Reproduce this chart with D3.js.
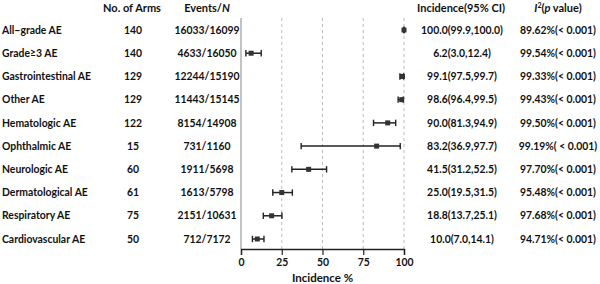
<!DOCTYPE html>
<html>
<head>
<meta charset="utf-8">
<script src="https://cdn.jsdelivr.net/npm/d3@7"></script>
<style>
  body { margin: 0; background: #fff; }
  svg text { font-family: Lato, sans-serif; font-weight: 700; fill: #111; }
</style>
</head>
<body>
<div id="chart"></div>
<script>
// forest plot of AE incidence
const outcomes = ['All−grade AE', 'Grade≥3 AE', 'Gastrointestinal AE', 'Other AE', 'Hematologic AE',
  'Ophthalmic AE', 'Neurologic AE', 'Dermatological AE', 'Respiratory AE', 'Cardiovascular AE'];
const arms = [140, 140, 129, 129, 122, 15, 60, 61, 75, 50];
const events = ['16033/16099', '4633/16050', '12244/15190', '11443/15145', '8154/14908',
  '731/1160', '1911/5698', '1613/5798', '2151/10631', '712/7172'];
const est = [100.0, 6.2, 99.1, 98.6, 90.0, 83.2, 41.5, 25.0, 18.8, 10.0];
const lo = [99.9, 3.0, 97.5, 96.4, 81.3, 36.9, 31.2, 19.5, 13.7, 7.0];
const hi = [100.0, 12.4, 99.7, 99.5, 94.9, 97.7, 52.5, 31.5, 25.1, 14.1];
const i2 = ['89.62%(< 0.001)', '99.54%(< 0.001)', '99.33%(< 0.001)', '99.43%(< 0.001)', '99.50%(< 0.001)',
  '99.19%( < 0.001)', '97.70%(< 0.001)', '95.48%(< 0.001)', '97.68%(< 0.001)', '94.71%(< 0.001)'];
const xTicks = [0, 25, 50, 75, 100];

const width = 600, height = 284;
const svg = d3.select('#chart').append('svg').attr('width', width).attr('height', height);

const x = d3.scaleLinear().domain([0, 100]).range([241, 404]);
const y = d3.scalePoint().domain(outcomes).range([30, 239]);
const fs = 10.4;

// gridlines
svg.selectAll('line.grid')
  .data(xTicks.filter(d => d > 0))
  .join('line')
  .attr('x1', d => x(d)).attr('x2', d => x(d))
  .attr('y1', 18).attr('y2', 249)
  .attr('stroke', '#aaa').attr('stroke-width', 0.8)
  .attr('stroke-dasharray', '3,3');

// left axis line
svg.append('line')
  .attr('x1', x(0)).attr('x2', x(0)).attr('y1', 18).attr('y2', 249)
  .attr('stroke', '#888').attr('stroke-width', 1);

// x axis
const xAxis = svg.append('g')
  .attr('transform', 'translate(0,249)')
  .call(d3.axisBottom(x).tickValues(xTicks).tickSize(6).tickPadding(4));
xAxis.select('.domain').attr('stroke', '#222').attr('stroke-width', 1.4);
xAxis.selectAll('.tick line').attr('stroke', '#222').attr('stroke-width', 1.2);
xAxis.selectAll('.tick text').attr('font-size', fs).attr('font-family', 'Lato, sans-serif');

svg.append('text')
  .attr('x', x(50)).attr('y', 278).attr('dy', '0.35em')
  .attr('text-anchor', 'middle').attr('font-size', 11.5)
  .text('Incidence %');

// CI bars
const rows = svg.append('g').selectAll('g')
  .data(outcomes.map((o, i) => ({ o, i })))
  .join('g')
  .attr('transform', d => `translate(0,${y(d.o)})`);

rows.append('line')
  .attr('x1', d => x(lo[d.i])).attr('x2', d => x(hi[d.i]))
  .attr('stroke', '#222').attr('stroke-width', 1.5);
rows.selectAll('line.cap')
  .data(d => [lo[d.i], hi[d.i]])
  .join('line')
  .attr('x1', v => x(v)).attr('x2', v => x(v))
  .attr('y1', -3.2).attr('y2', 3.2)
  .attr('stroke', '#222').attr('stroke-width', 1.4);
rows.append('rect')
  .attr('x', d => x(est[d.i]) - 2.5).attr('y', -2.5)
  .attr('width', 5).attr('height', 5)
  .attr('fill', '#333');

// header
const header = [
  { t: 'No. of Arms', x: 132 },
  { t: 'Events/', it: 'N', x: 207 },
  { t: 'Incidence(95% CI)', x: 461 },
];
header.forEach(h => {
  const t = svg.append('text').attr('x', h.x).attr('y', 8).attr('dy', '0.35em')
    .attr('text-anchor', 'middle').attr('font-size', 11).text(h.t);
  if (h.it) t.append('tspan').attr('font-style', 'italic').text(h.it);
});
const i2h = svg.append('text').attr('x', 558).attr('y', 8).attr('dy', '0.35em')
  .attr('text-anchor', 'middle').attr('font-size', 11);
i2h.append('tspan').attr('font-style', 'italic').text('I');
i2h.append('tspan').attr('font-size', 7).attr('dy', '-0.5em').text('2');
i2h.append('tspan').attr('dy', '0.35em').text('(');
i2h.append('tspan').attr('font-style', 'italic').text('p');
i2h.append('tspan').text(' value)');

// table columns
const cols = [
  { vals: outcomes, x: 2, anchor: 'start' },
  { vals: arms, x: 133, anchor: 'middle' },
  { vals: events, x: 207, anchor: 'middle' },
  { vals: est.map((e, i) => `${e.toFixed(1)}(${lo[i].toFixed(1)},${hi[i].toFixed(1)})`), x: 462, anchor: 'middle' },
  { vals: i2, x: 558, anchor: 'middle' },
];
cols.forEach(c => {
  svg.append('g').selectAll('text')
    .data(c.vals)
    .join('text')
    .attr('x', c.x)
    .attr('y', (d, i) => y(outcomes[i]))
    .attr('dy', '0.35em')
    .attr('text-anchor', c.anchor)
    .attr('font-size', fs)
    .text(d => d);
});
</script>
</body>
</html>
